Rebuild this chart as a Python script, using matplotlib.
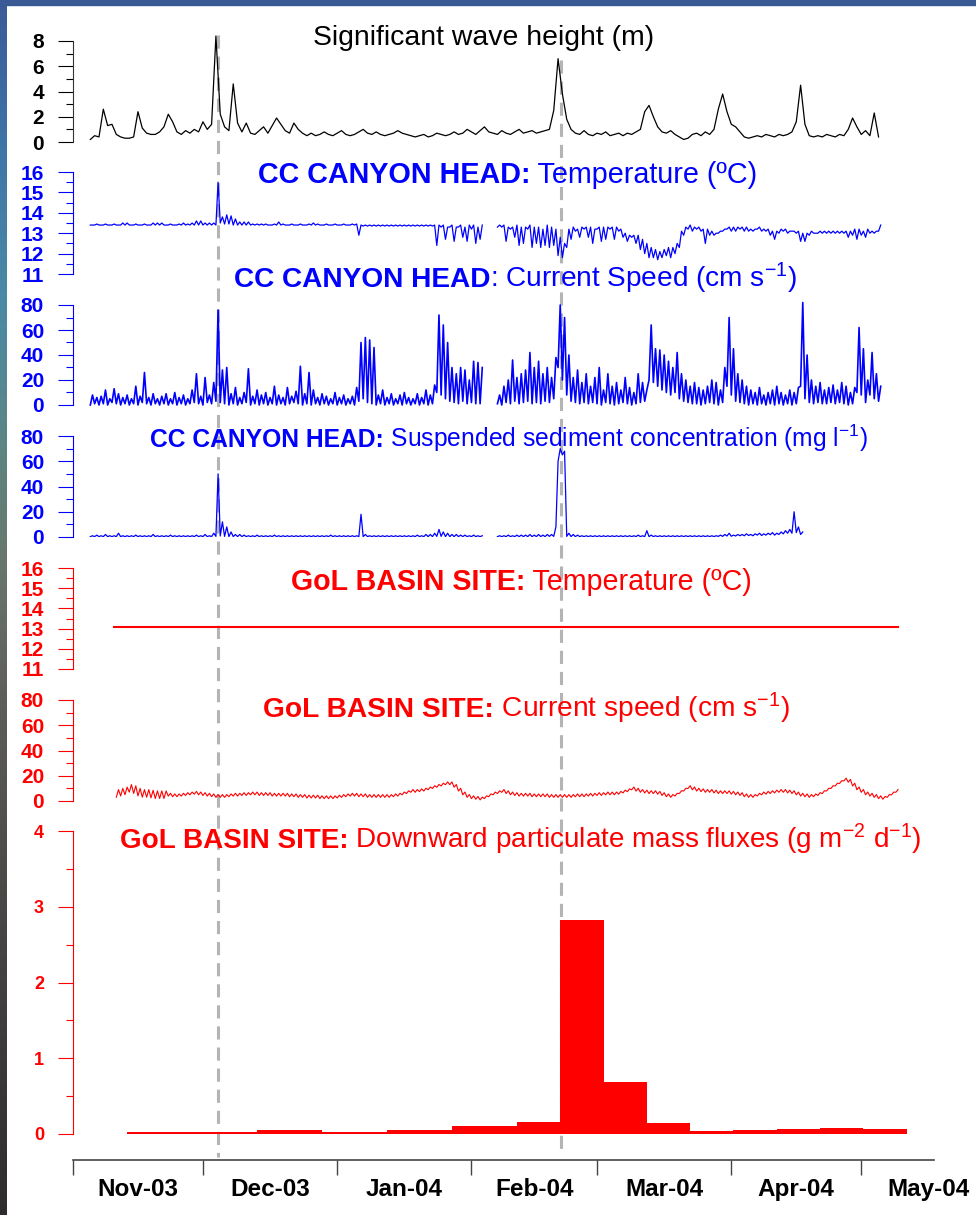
# Multi-panel time series: waves, CC canyon head and GoL basin site (Nov 2003 - May 2004)
import numpy as np
import matplotlib.pyplot as plt
from matplotlib.patches import Rectangle

plt.rcParams['font.family'] = 'Liberation Sans'
plt.rcParams['mathtext.fontset'] = 'custom'
plt.rcParams['mathtext.rm'] = 'Liberation Sans'
plt.rcParams['mathtext.bf'] = 'Liberation Sans:bold'
plt.rcParams['mathtext.it'] = 'Liberation Sans:italic'

# ---- data (x = days since 1 Nov 2003) ----
month_starts = [0, 30, 61, 92, 121, 152, 182]
month_mids = [15, 45.5, 76.5, 106.5, 136.5, 167, 197.5]
month_names = ['Nov-03', 'Dec-03', 'Jan-04', 'Feb-04', 'Mar-04', 'Apr-04', 'May-04']
event_days = [33.5, 112.6]

# significant wave height (m), daily from day 4
wave_start = 4
wave_hs = [0.2, 0.5, 0.4, 2.6, 1.3, 1.4, 0.6, 0.4, 0.3, 0.3,
           0.4, 2.4, 1.1, 0.7, 0.6, 0.6, 0.8, 1.2, 2.2, 1.6,
           0.8, 0.6, 0.9, 0.7, 1.0, 0.8, 1.6, 1.0, 1.4, 8.4,
           2.2, 1.2, 0.9, 4.6, 1.5, 0.8, 1.5, 0.7, 0.6, 0.9,
           1.2, 0.7, 1.3, 1.9, 1.4, 0.9, 0.7, 1.5, 1.0, 0.7,
           0.5, 0.7, 0.5, 0.6, 0.8, 0.6, 0.5, 0.7, 0.9, 0.6,
           0.5, 0.6, 0.8, 1.0, 0.7, 0.6, 0.8, 0.6, 0.5, 0.6,
           0.7, 0.9, 0.7, 0.6, 0.5, 0.4, 0.5, 0.6, 0.4, 0.5,
           0.7, 0.6, 0.5, 0.6, 0.8, 0.6, 0.7, 1.0, 0.8, 0.6,
           0.9, 1.2, 0.8, 0.7, 0.6, 0.9, 0.7, 0.6, 0.8, 1.0,
           0.7, 0.8, 0.9, 0.7, 0.8, 0.9, 1.0, 2.5, 6.6, 3.8,
           1.8, 1.0, 0.7, 0.6, 0.9, 0.6, 0.5, 0.7, 0.6, 0.8,
           0.5, 0.6, 0.7, 0.5, 0.7, 0.6, 0.8, 1.0, 2.4, 2.9,
           2.0, 1.2, 0.8, 0.7, 0.9, 0.6, 0.4, 0.2, 0.3, 0.6,
           0.7, 0.5, 0.8, 0.6, 1.0, 2.6, 3.8, 2.4, 1.4, 1.2,
           0.8, 0.4, 0.3, 0.4, 0.5, 0.4, 0.6, 0.5, 0.4, 0.6,
           0.5, 0.6, 0.8, 1.6, 4.5, 1.4, 0.5, 0.4, 0.5, 0.4,
           0.6, 0.5, 0.4, 0.6, 0.5, 1.0, 1.9, 1.2, 0.6, 0.9,
           0.5, 2.3, 0.4]

nan = np.nan
# CC canyon head, daily low / high, from day 4 (nan = no data)
cc_start = 4
cc_temp_lo = [13.4, 13.4, 13.4, 13.4, 13.4, 13.4, 13.4, 13.4, 13.4, 13.4,
              13.4, 13.4, 13.4, 13.4, 13.4, 13.4, 13.4, 13.4, 13.4, 13.4,
              13.4, 13.4, 13.4, 13.4, 13.4, 13.4, 13.4, 13.4, 13.4, 13.4,
              13.5, 13.45, 13.45, 13.4, 13.4, 13.4, 13.4, 13.4, 13.4, 13.4,
              13.4, 13.4, 13.4, 13.4, 13.4, 13.4, 13.4, 13.4, 13.4, 13.4,
              13.4, 13.4, 13.4, 13.4, 13.4, 13.4, 13.4, 13.4, 13.4, 13.4,
              13.4, 13.4, 12.9, 13.35, 13.35, 13.35, 13.35, 13.35, 13.35, 13.35,
              13.35, 13.35, 13.35, 13.35, 13.35, 13.35, 13.35, 13.35, 13.35, 13.35,
              12.4, 13.3, 12.7, 13.3, 12.6, 13.3, 12.8, 12.6, 13.2, 12.5,
              12.7, nan, nan, nan, 13.3, 13.3, 12.6, 13.2, 12.8, 12.4,
              12.5, 13.2, 12.3, 12.5, 12.3, 12.4, 12.3, 12.4, 11.9, 11.8,
              12.3, 12.7, 13.1, 12.8, 13.2, 12.8, 12.5, 13.2, 12.6, 12.7,
              13.2, 12.7, 13.1, 12.8, 12.6, 12.8, 12.5, 12.2, 12.0, 11.8,
              11.8, 11.7, 11.8, 11.9, 11.8, 12.0, 12.3, 12.9, 13.2, 13.1,
              13.2, 13.1, 12.5, 12.9, 12.9, 13.0, 13.1, 13.2, 13.1, 13.1,
              13.2, 13.1, 13.1, 13.1, 13.2, 13.1, 13.1, 12.9, 12.7, 13.0,
              13.1, 13.0, 13.1, 13.0, 12.6, 12.6, 12.9, 13.0, 13.0, 13.0,
              13.0, 13.0, 13.0, 13.0, 13.0, 12.8, 12.9, 12.7, 12.9, 12.8,
              13.0, 13.0, 13.1]
cc_temp_hi = [13.4, 13.45, 13.4, 13.45, 13.4, 13.45, 13.4, 13.5, 13.5, 13.4,
              13.45, 13.4, 13.45, 13.4, 13.5, 13.5, 13.5, 13.4, 13.45, 13.4,
              13.45, 13.5, 13.45, 13.5, 13.6, 13.6, 13.5, 13.5, 13.5, 15.5,
              13.8, 13.9, 13.85, 13.7, 13.55, 13.55, 13.55, 13.45, 13.45, 13.45,
              13.45, 13.4, 13.45, 13.55, 13.45, 13.4, 13.45, 13.4, 13.45, 13.4,
              13.45, 13.5, 13.45, 13.4, 13.45, 13.4, 13.45, 13.4, 13.45, 13.4,
              13.45, 13.45, 13.4, 13.4, 13.4, 13.4, 13.4, 13.4, 13.4, 13.4,
              13.4, 13.4, 13.4, 13.4, 13.4, 13.4, 13.4, 13.4, 13.4, 13.4,
              13.4, 13.4, 13.3, 13.4, 13.3, 13.4, 13.3, 13.4, 13.4, 13.3,
              13.4, nan, nan, nan, 13.4, 13.4, 13.3, 13.3, 13.4, 13.3,
              13.3, 13.4, 13.3, 13.3, 13.2, 13.4, 13.3, 13.2, 12.8, 12.5,
              13.2, 13.3, 13.2, 13.3, 13.3, 13.3, 13.2, 13.3, 13.3, 13.3,
              13.3, 13.3, 13.2, 13.0, 12.9, 12.9, 12.9, 12.7, 12.5, 12.3,
              12.2, 12.1, 12.2, 12.3, 12.3, 12.5, 13.1, 13.3, 13.4, 13.3,
              13.3, 13.2, 13.2, 13.1, 13.0, 13.1, 13.2, 13.3, 13.3, 13.3,
              13.3, 13.3, 13.2, 13.2, 13.3, 13.2, 13.2, 13.1, 13.1, 13.2,
              13.2, 13.1, 13.1, 13.1, 13.0, 13.0, 13.1, 13.0, 13.1, 13.1,
              13.1, 13.1, 13.1, 13.1, 13.1, 13.1, 13.2, 13.2, 13.1, 13.2,
              13.1, 13.1, 13.4]
cc_speed_lo = [0, 1, 0, 1, 0, 2, 1, 0, 1, 0,
               1, 0, 2, 1, 0, 1, 0, 1, 0, 1,
               0, 1, 0, 1, 2, 1, 0, 2, 1, 3,
               2, 1, 0, 1, 0, 1, 2, 0, 1, 0,
               1, 0, 1, 0, 1, 0, 1, 2, 1, 0,
               1, 0, 1, 0, 1, 0, 1, 0, 1, 0,
               1, 0, 3, 5, 2, 1, 0, 1, 0, 1,
               0, 1, 0, 1, 0, 1, 0, 1, 0, 1,
               10, 8, 5, 3, 2, 1, 3, 1, 2, 1,
               1, nan, nan, nan, 1, 0, 2, 1, 3, 1,
               2, 3, 1, 2, 1, 3, 2, 5, 30, 20,
               8, 3, 2, 1, 2, 1, 2, 1, 0, 2,
               1, 0, 1, 2, 1, 0, 1, 2, 3, 20,
               18, 15, 12, 10, 8, 10, 5, 3, 2, 1,
               1, 0, 1, 2, 1, 0, 2, 15, 8, 3,
               2, 1, 0, 1, 0, 1, 0, 1, 0, 1,
               0, 1, 0, 1, 15, 5, 2, 1, 2, 1,
               1, 2, 1, 2, 1, 0, 1, 10, 8, 2,
               8, 5, 3]
cc_speed_hi = [8, 6, 7, 12, 5, 13, 9, 6, 8, 5,
               15, 7, 26, 6, 9, 5, 7, 9, 5, 10,
               6, 8, 5, 12, 25, 7, 22, 8, 18, 76,
               28, 30, 9, 14, 6, 10, 29, 7, 12, 8,
               10, 6, 15, 8, 6, 14, 7, 11, 31, 9,
               26, 12, 6, 9, 7, 5, 10, 6, 8, 5,
               7, 14, 50, 54, 52, 46, 8, 12, 6, 9,
               5, 8, 10, 6, 5, 9, 6, 12, 8, 16,
               72, 64, 50, 30, 25, 30, 28, 20, 35, 34,
               30, nan, nan, nan, 8, 15, 20, 36, 22, 25,
               28, 42, 30, 35, 25, 30, 22, 38, 80, 70,
               40, 22, 28, 18, 25, 15, 22, 30, 12, 25,
               15, 18, 12, 22, 14, 10, 25, 18, 12, 64,
               45, 44, 40, 35, 30, 42, 25, 20, 15, 18,
               14, 12, 15, 20, 18, 12, 30, 70, 45, 25,
               20, 15, 12, 10, 14, 8, 10, 12, 15, 10,
               8, 12, 10, 14, 82, 40, 20, 15, 18, 12,
               14, 16, 12, 18, 15, 10, 14, 62, 45, 20,
               42, 25, 15]
ssc_lo = [0.3, 0.3, 0.3, 0.3, 0.3, 0.3, 0.3, 0.3, 0.3, 0.3,
          0.3, 0.3, 0.3, 0.3, 0.3, 0.3, 0.3, 0.3, 0.3, 0.3,
          0.3, 0.3, 0.3, 0.3, 0.3, 0.3, 0.3, 0.3, 0.3, 0.5,
          0.8, 0.5, 0.3, 0.3, 0.3, 0.3, 0.3, 0.3, 0.3, 0.3,
          0.3, 0.3, 0.3, 0.3, 0.3, 0.3, 0.3, 0.3, 0.3, 0.3,
          0.3, 0.3, 0.3, 0.3, 0.3, 0.3, 0.3, 0.3, 0.3, 0.3,
          0.3, 0.3, 0.3, 0.3, 0.3, 0.3, 0.3, 0.3, 0.3, 0.3,
          0.3, 0.3, 0.3, 0.3, 0.3, 0.3, 0.3, 0.3, 0.3, 0.3,
          0.5, 0.5, 0.3, 0.3, 0.3, 0.3, 0.3, 0.3, 0.3, 0.3,
          0.3, nan, nan, nan, 0.3, 0.3, 0.3, 0.3, 0.3, 0.3,
          0.3, 0.3, 0.3, 0.3, 0.3, 0.3, 0.5, 0.5, 60, 65,
          0.5, 0.3, 0.3, 0.3, 0.3, 0.3, 0.3, 0.3, 0.3, 0.3,
          0.3, 0.3, 0.3, 0.3, 0.3, 0.3, 0.3, 0.3, 0.3, 0.3,
          0.3, 0.3, 0.3, 0.3, 0.3, 0.3, 0.3, 0.3, 0.3, 0.3,
          0.3, 0.3, 0.3, 0.3, 0.3, 0.5, 0.5, 0.8, 0.6, 0.8,
          1.0, 1.0, 1.2, 1.0, 1.5, 1.2, 1.5, 1.8, 1.5, 2.0,
          2.5, 3.0, 3.0, 3.5, 2.0]
ssc_hi = [1, 1.5, 1, 2, 1, 1, 3, 1, 1, 1,
          1.5, 1, 1, 1, 2, 1, 1, 1, 1.5, 1,
          1, 1, 1, 1, 1.5, 1, 2, 1, 3, 50,
          12, 8, 4, 2, 2, 1.5, 1, 1, 1.5, 1,
          1, 1, 1.5, 1, 1, 1, 1, 1, 1, 1,
          1, 1, 1, 1, 1, 1.5, 1, 1, 1, 1,
          1, 1, 18, 2, 1, 1, 1, 1, 1, 1,
          1, 1, 1, 1, 1, 1.5, 1, 2, 2, 3,
          6, 4, 3, 2, 2, 1.5, 1.5, 1, 1.5, 1,
          1, nan, nan, nan, 1, 1, 1.5, 1, 1.5, 1.5,
          1.5, 2, 1.5, 2, 1.5, 2, 2, 8, 70, 68,
          3, 2, 1.5, 1, 1, 1, 1, 1, 1, 1,
          1, 1, 1, 1, 1, 1, 1.5, 1, 5, 1.5,
          1, 1, 1, 1, 1, 1, 1, 1, 1, 1,
          1, 1, 1, 1, 1, 1.5, 2, 3, 1.5, 2,
          2, 2.5, 2, 2.5, 3, 2.5, 3, 3.5, 3, 4,
          5, 6, 20, 8, 4]

# GoL basin site
gol_temp_days = [9.5, 190.5]
gol_temp = [13.1, 13.1]
gol_start = 10
gol_speed = [6, 7, 8, 10, 9, 7, 6, 6, 5.5, 5,
             5, 5, 5, 4.5, 4.5, 5, 5.5, 6, 6.5, 6,
             5.5, 5, 4.5, 4, 4, 4, 4.5, 5, 5, 5.5,
             5.5, 6, 6, 5.5, 5.5, 5.5, 5, 5, 5, 5,
             4.5, 4.5, 4, 4, 3.5, 3.5, 3.5, 3, 3, 3,
             3, 3.5, 4, 4.5, 5, 5, 4.5, 4.5, 4, 4,
             4, 4, 4, 4, 4.5, 5, 6, 7, 8, 8,
             8.5, 9, 10, 11, 12, 13, 14, 14, 12, 9,
             6, 4, 3, 2.5, 2, 3, 4.5, 6, 7, 8,
             7, 6, 5.5, 5, 5, 5, 4.5, 4.5, 4.5, 4.5,
             4, 4, 4, 4, 4, 4, 4.5, 4.5, 4.5, 5,
             5, 5.5, 5.5, 6, 6, 6, 6.5, 7.5, 8.5, 10,
             9, 8, 7.5, 7, 7, 6.5, 5.5, 4.5, 4, 5,
             7, 9, 11, 10, 9, 8.5, 8, 8, 7.5, 7,
             7, 7, 6.5, 6, 5.5, 4.5, 4, 4, 5, 6,
             6.5, 7, 7.5, 8, 8, 7.5, 7, 6, 5, 4.5,
             4, 4.5, 5.5, 7, 9, 11, 13, 15, 17, 16,
             13, 10, 8, 6, 5, 4, 3, 2.5, 4, 6, 8]
gol_tide = [3.0] * 12 + [1.1] * 169   # half range of the inertial/tidal oscillation

# downward particulate mass flux (trap cups)
flux_start = [12.5, 27.5, 42.5, 57.5, 72.5, 87.5, 102.5, 112.5, 122.5,
              132.5, 142.5, 152.5, 162.5, 172.5, 182.5]
flux_width = [15, 15, 15, 15, 15, 15, 10, 10, 10, 10, 10, 10, 10, 10, 10]
flux = [0.02, 0.02, 0.05, 0.03, 0.05, 0.11, 0.16, 2.83, 0.69, 0.15,
        0.04, 0.05, 0.07, 0.08, 0.06]


def zigzag(start, lo, hi):
    lo = np.asarray(lo, float)
    hi = np.asarray(hi, float)
    d = start + np.arange(len(lo))
    x = np.column_stack([d, d + 0.5]).ravel()
    y = np.column_stack([lo, hi]).ravel()
    return x, y


# ---- layout (pixel based) ----
W, H = 976, 1215
X0, X1 = 73, 934
DAY_END = 198.8
BLUE = '#0000ff'
RED = '#ff0000'

fig = plt.figure(figsize=(W / 100, H / 100), dpi=100, facecolor='white')


def box(x0, y0, x1, y1):
    return [x0 / W, 1 - y1 / H, (x1 - x0) / W, (y1 - y0) / H]


# slide frame: dark band on top, gradient strip on the left
fig.add_artist(Rectangle((0, 1 - 5 / H), 1, 5 / H, transform=fig.transFigure,
                         color='#3a5a96', zorder=10))
strip = fig.add_axes(box(0, 0, 7, H))
stops = np.array([0, 150, 300, 450, 560, 700, 900, 1215]) / 1215
cols = np.array([[58, 90, 152], [62, 118, 168], [74, 138, 165], [93, 133, 130],
                 [104, 119, 108], [94, 94, 88], [74, 72, 70], [46, 45, 44]]) / 255
t = np.linspace(0, 1, 300)
grad = np.stack([np.interp(t, stops, cols[:, k]) for k in range(3)], axis=1)
strip.imshow(grad[:, None, :], aspect='auto')
strip.set_axis_off()

# dashed event markers behind everything
ov = fig.add_axes(box(X0, 0, X1, H))
ov.set_xlim(0, DAY_END)
ov.set_ylim(H, 0)
ov.set_axis_off()
ov.vlines(event_days, [35, 60], [1157, 1155], colors='#b4b4b4', lw=2.2,
          linestyles=(0, (4.3, 2.6)))


def panel(top, bottom, ylim, color, major, minor, labels, labelsize=15):
    ax = fig.add_axes(box(X0, top, X1, bottom))
    ax.patch.set_visible(False)
    ax.set_xlim(0, DAY_END)
    ax.set_ylim(*ylim)
    for s in ['top', 'right', 'bottom']:
        ax.spines[s].set_visible(False)
    ax.spines['left'].set_color(color)
    ax.spines['left'].set_linewidth(0.8)
    ax.tick_params(axis='x', bottom=False, labelbottom=False)
    ax.set_yticks(major)
    ax.set_yticklabels(labels)
    ax.set_yticks(minor, minor=True)
    ax.tick_params(axis='y', which='major', direction='out', length=10.8, width=0.8,
                   color=color, labelcolor=color, labelsize=labelsize, pad=10)
    ax.tick_params(axis='y', which='minor', direction='out', length=5, width=0.8,
                   color=color)
    for lab in ax.get_yticklabels():
        lab.set_fontweight('bold')
    return ax


temp_major = [11, 12, 13, 14, 15, 16]
temp_minor = [11.5, 12.5, 13.5, 14.5, 15.5]
spd_major = [0, 20, 40, 60, 80]
spd_minor = [10, 30, 50, 70]

# significant wave height
ax = panel(41, 142, (0, 8), 'black', [0, 2, 4, 6, 8], [1, 3, 5, 7],
           ['0', '2', '4', '6', '8'])
ax.spines['left'].set_color('#333333')
ax.plot(wave_start + np.arange(len(wave_hs)), wave_hs, color='black', lw=0.9,
        clip_on=False)

# CC canyon head temperature
ax = panel(172, 274, (11, 16), BLUE, temp_major, temp_minor,
           [str(v) for v in temp_major])
ax.plot(*zigzag(cc_start, cc_temp_lo, cc_temp_hi), color=BLUE, lw=0.9)

# CC canyon head current speed
ax = panel(305, 405, (0, 80), BLUE, spd_major, spd_minor,
           [str(v) for v in spd_major])
ax.plot(*zigzag(cc_start, cc_speed_lo, cc_speed_hi), color=BLUE, lw=1.2,
        clip_on=False)

# CC canyon head suspended sediment
ax = panel(436, 537, (0, 80), BLUE, spd_major, spd_minor,
           [str(v) for v in spd_major])
ax.plot(*zigzag(cc_start, ssc_lo, ssc_hi), color=BLUE, lw=0.9)

# GoL basin temperature
ax = panel(568, 669, (11, 16), RED, temp_major, temp_minor,
           [str(v) for v in temp_major])
ax.plot(gol_temp_days, gol_temp, color=RED, lw=1.5)

# GoL basin current speed
ax = panel(700, 801, (0, 80), RED, spd_major, spd_minor,
           [str(v) for v in spd_major])
g = np.asarray(gol_speed, float)
a = np.asarray(gol_tide, float)
ax.plot(*zigzag(gol_start, g - a, g + a), color=RED, lw=0.8)

# GoL basin particle flux
ax = panel(831, 1134, (0, 4), RED, [0, 1, 2, 3, 4], [0.5, 1.5, 2.5, 3.5],
           ['0', '1', '2', '3', '4'], labelsize=13)
ax.bar(flux_start, flux, width=flux_width, align='edge', color=RED, linewidth=0)

# shared month axis at the bottom
axb = fig.add_axes(box(X0, 1150, X1, 1160))
axb.patch.set_visible(False)
axb.set_xlim(0, DAY_END)
for s in ['top', 'right', 'left']:
    axb.spines[s].set_visible(False)
axb.spines['bottom'].set_color('#444444')
axb.spines['bottom'].set_linewidth(1.2)
axb.set_yticks([])
axb.set_xticks(month_starts)
axb.set_xticklabels([])
axb.set_xticks(month_mids, minor=True)
axb.set_xticklabels(month_names, minor=True, fontsize=17.5, fontweight='bold')
axb.tick_params(axis='x', which='major', direction='out', length=10.8, width=1,
                color='#444444')
axb.tick_params(axis='x', which='minor', length=0, pad=13)

# panel titles: bold site name + regular quantity, fitted between x_left and x_right
titles = [
    (313, 653, 45, '', 'Significant wave height (m)', 'black'),
    (258, 757, 183, 'CC CANYON HEAD:', ' Temperature (ºC)', BLUE),
    (234, 797, 287, 'CC CANYON HEAD', ': Current Speed (cm s$^{-1}$)', BLUE),
    (150, 868, 447, 'CC CANYON HEAD:', ' Suspended sediment concentration (mg l$^{-1}$)', BLUE),
    (291, 752, 590, 'GoL BASIN SITE:', ' Temperature (ºC)', RED),
    (263, 790, 717, 'GoL BASIN SITE:', ' Current speed (cm s$^{-1}$)', RED),
    (120, 922, 848, 'GoL BASIN SITE:', ' Downward particulate mass fluxes (g m$^{-2}$ d$^{-1}$)', RED),
]
renderer = fig.canvas.get_renderer()
for xl, xr, yb, bold, reg, c in titles:
    tb = fig.text(xl / W, 1 - yb / H, bold, color=c, fontsize=20, fontweight='bold',
                  ha='left', va='baseline')
    tr = fig.text(xl / W, 1 - yb / H, reg, color=c, fontsize=20,
                  ha='left', va='baseline')
    wb = tb.get_window_extent(renderer).width if bold else 0
    wr = tr.get_window_extent(renderer).width
    fs = 20 * (xr - xl) / (wb + wr)
    tb.set_fontsize(fs)
    tr.set_fontsize(fs)
    wb = tb.get_window_extent(renderer).width if bold else 0
    tr.set_x((xl + wb) / W)

fig.savefig('out.png', dpi=100)
